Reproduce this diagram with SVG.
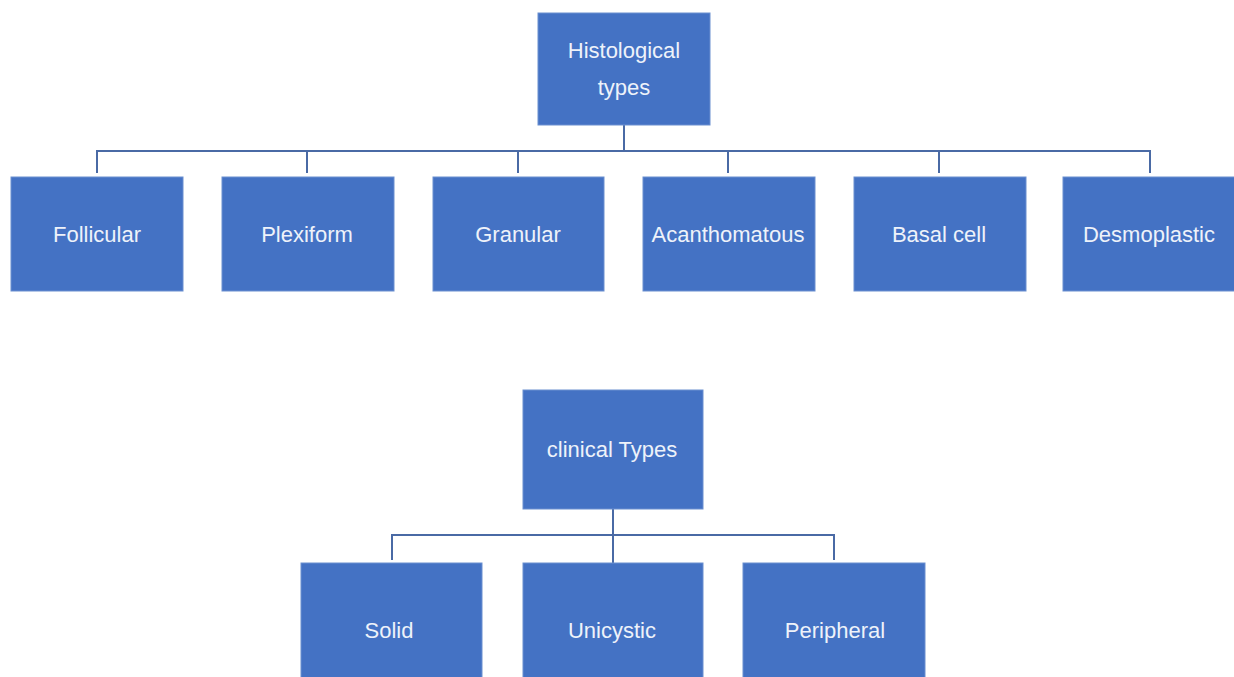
<svg xmlns="http://www.w3.org/2000/svg" width="1234" height="677" viewBox="0 0 1234 677">
<style>
.box{fill:#4472C4;stroke:#6a8fd0;stroke-width:1}
.lbl{font-family:"Liberation Sans",Arial,sans-serif;font-size:22px;fill:#eef2fa;text-anchor:middle;dominant-baseline:central}
.conn{fill:none;stroke:#4a6aa5;stroke-width:2}
</style>
<rect width="1234" height="677" fill="#ffffff"/>
<g id="connectors">
<path class="conn" d="M624,125 V151 M97,173 V151 H1150 V173 M307,151 V173 M518,151 V173 M728,151 V173 M939,151 V173"/>
<path class="conn" d="M613,509 V563 M392,560 V535 H834 V560"/>
</g>
<g id="histological"><rect class="box" x="538" y="13" width="172" height="112"/><text class="lbl" x="624" y="50">Histological</text><text class="lbl" x="624" y="87">types</text></g>
<g id="follicular"><rect class="box" x="11" y="177" width="172" height="114"/><text class="lbl" x="97" y="234">Follicular</text></g>
<g id="plexiform"><rect class="box" x="222" y="177" width="172" height="114"/><text class="lbl" x="307" y="234">Plexiform</text></g>
<g id="granular"><rect class="box" x="433" y="177" width="171" height="114"/><text class="lbl" x="518" y="234">Granular</text></g>
<g id="acanthomatous"><rect class="box" x="643" y="177" width="172" height="114"/><text class="lbl" x="728" y="234">Acanthomatous</text></g>
<g id="basal"><rect class="box" x="854" y="177" width="172" height="114"/><text class="lbl" x="939" y="234">Basal cell</text></g>
<g id="desmoplastic"><rect class="box" x="1063" y="177" width="172" height="114"/><text class="lbl" x="1149" y="234">Desmoplastic</text></g>
<g id="clinical"><rect class="box" x="523" y="390" width="180" height="119"/><text class="lbl" x="612" y="449">clinical Types</text></g>
<g id="solid"><rect class="box" x="301" y="563" width="181" height="120"/><text class="lbl" x="389" y="630">Solid</text></g>
<g id="unicystic"><rect class="box" x="523" y="563" width="180" height="120"/><text class="lbl" x="612" y="630">Unicystic</text></g>
<g id="peripheral"><rect class="box" x="743" y="563" width="182" height="120"/><text class="lbl" x="835" y="630">Peripheral</text></g>
</svg>
